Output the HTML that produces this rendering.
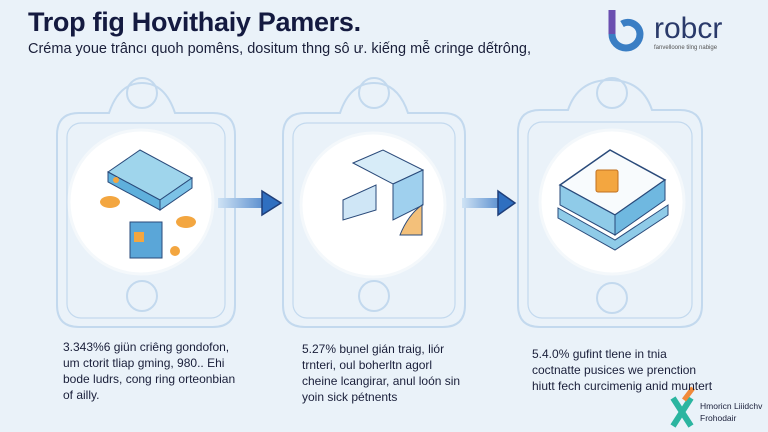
<!DOCTYPE html>
<html><head><meta charset="utf-8"><style>
body{margin:0;width:768px;height:432px;overflow:hidden;background:#eaf2f9;font-family:"Liberation Sans",sans-serif;position:relative}
.t{position:absolute;color:#1a1f3a;white-space:nowrap}
</style></head><body>
<svg width="768" height="432" style="position:absolute;left:0;top:0">
<defs>
<linearGradient id="ar" x1="0" x2="1"><stop offset="0" stop-color="#cfe3f5"/><stop offset="1" stop-color="#2f6fc0"/></linearGradient>
</defs>
<g fill="none" stroke="#c3d9ee" stroke-width="2">
<path d="M57 135 q0-22 22-22 h30 q10-30 33-30 q23 0 33 30 h38 q22 0 22 22 v170 q0 22-22 22 h-134 q-22 0-22-22z"/>
<rect x="67" y="123" width="158" height="195" rx="14" stroke-width="1.2"/>
<circle cx="142" cy="93" r="15"/><circle cx="142" cy="296" r="15"/>
<path d="M283 135 q0-22 22-22 h35 q10-30 34-30 q24 0 34 30 h35 q22 0 22 22 v170 q0 22-22 22 h-138 q-22 0-22-22z"/>
<rect x="293" y="123" width="162" height="195" rx="14" stroke-width="1.2"/>
<circle cx="374" cy="93" r="15"/><circle cx="374" cy="296" r="15"/>
<path d="M518 132 q0-22 22-22 h28 q10-30 42-30 q32 0 42 30 h28 q22 0 22 22 v173 q0 22-22 22 h-140 q-22 0-22-22z"/>
<rect x="528" y="122" width="164" height="196" rx="14" stroke-width="1.2"/>
<circle cx="612" cy="93" r="15"/><circle cx="612" cy="298" r="15"/>
</g>
<circle cx="141" cy="202" r="72" fill="#fff" stroke="#f4f8fb" stroke-width="3"/>
<circle cx="373" cy="205" r="72" fill="#fff" stroke="#f4f8fb" stroke-width="3"/>
<circle cx="612" cy="202" r="72" fill="#fff" stroke="#f4f8fb" stroke-width="3"/>
<polygon points="108,172 140,150 192,178 160,200" fill="#9fd5ec" stroke="#2a4a7a"/>
<polygon points="108,172 160,200 160,210 108,182" fill="#5fb0dc" stroke="#2a4a7a"/>
<polygon points="160,200 192,178 192,188 160,210" fill="#7cc2e6" stroke="#2a4a7a"/>
<rect x="130" y="222" width="32" height="36" fill="#5aa6d8" stroke="#2a4a7a"/>
<rect x="134" y="232" width="10" height="10" fill="#f3a640"/>
<ellipse cx="110" cy="202" rx="10" ry="6" fill="#f3a640"/>
<ellipse cx="186" cy="222" rx="10" ry="6" fill="#f3a640"/>
<circle cx="175" cy="251" r="5" fill="#f3a640"/><circle cx="116" cy="180" r="3" fill="#f3a640"/>
<polygon points="353,163 383,150 423,170 393,184" fill="#d7ecf8" stroke="#2a4a7a"/>
<polygon points="393,184 423,170 423,205 393,220" fill="#9fd0ee" stroke="#2a4a7a"/>
<polygon points="343,200 376,185 376,210 343,220" fill="#cfe6f6" stroke="#2a4a7a"/>
<path d="M400 235 q8-20 22-30 v30z" fill="#f3c07a" stroke="#2a4a7a"/>
<polygon points="560,185 610,150 665,180 615,215" fill="#f8fbfd" stroke="#2a4a7a" stroke-width="1.5"/>
<polygon points="560,185 615,215 615,235 560,205" fill="#8fcbe8" stroke="#2a4a7a"/>
<polygon points="615,215 665,180 665,200 615,235" fill="#6fb8e0" stroke="#2a4a7a"/>
<polygon points="558,208 615,240 668,205 668,215 615,250 558,218" fill="#8fcbe8" stroke="#2a4a7a"/>
<rect x="596" y="170" width="22" height="22" rx="2" fill="#f3a640" stroke="#c07020"/>
<polygon points="218,198 262,198 262,191 281,203 262,215 262,208 218,208" fill="url(#ar)"/>
<polygon points="262,191 281,203 262,215" fill="#2f6fc0" stroke="#1f3f7a" stroke-width="1.5"/>
<polygon points="462,198 498,198 498,191 515,203 498,215 498,208 462,208" fill="url(#ar)"/>
<polygon points="498,191 515,203 498,215" fill="#2f6fc0" stroke="#1f3f7a" stroke-width="1.5"/>
<path d="M612 10 v24 a14 14 0 0 0 28 0 a12 12 0 0 0 -18 -10" fill="none" stroke="#3a7ec4" stroke-width="7"/>
<path d="M612 10 v24" stroke="#6a4fb0" stroke-width="7"/>
<path d="M673 398 l18 28 M691 398 l-18 28" stroke="#2bb5a0" stroke-width="6"/>
<path d="M684 400 l9 -12" stroke="#f08a3a" stroke-width="5"/>
</svg>
<div class="t" style="left:28px;top:7px;font-size:27px;font-weight:bold;color:#141a40;letter-spacing:-0.3px">Trop fig Hovithaiy Pamers.</div>
<div class="t" style="left:28px;top:41px;font-size:14.5px">Créma youe trâncı quoh pomêns, dositum thng sô ư. kiếng mễ cringe dếtrông,</div>
<div class="t" style="left:654px;top:12px;font-size:30px;color:#2a3a6a">robcr</div>
<div class="t" style="left:654px;top:45px;font-size:6px;color:#555">fanvelloone tilng nabige</div>
<div class="t" style="left:63px;top:339px;font-size:12px;line-height:16px">3.343%6 giün criêng gondofon,<br>um ctorit tliap gming, 980.. Ehi<br>bode ludrs, cong ring orteonbian<br>of ailly.</div>
<div class="t" style="left:302px;top:341px;font-size:12px;line-height:16px">5.27% bụnel gián traig, liór<br>trnteri, oul boherltn agorl<br>cheine lcangirar, anul loón sin<br>yoin sick pétnents</div>
<div class="t" style="left:532px;top:346px;font-size:12px;line-height:16px">5.4.0% gufint tlene in tnia<br>coctnatte pusices we prenction<br>hiutt fech curcimenig anid muntert</div>
<div class="t" style="left:700px;top:400px;font-size:8.5px;line-height:12px">Hmoricn Liiidchv<br>Frohodair</div>
</body></html>
